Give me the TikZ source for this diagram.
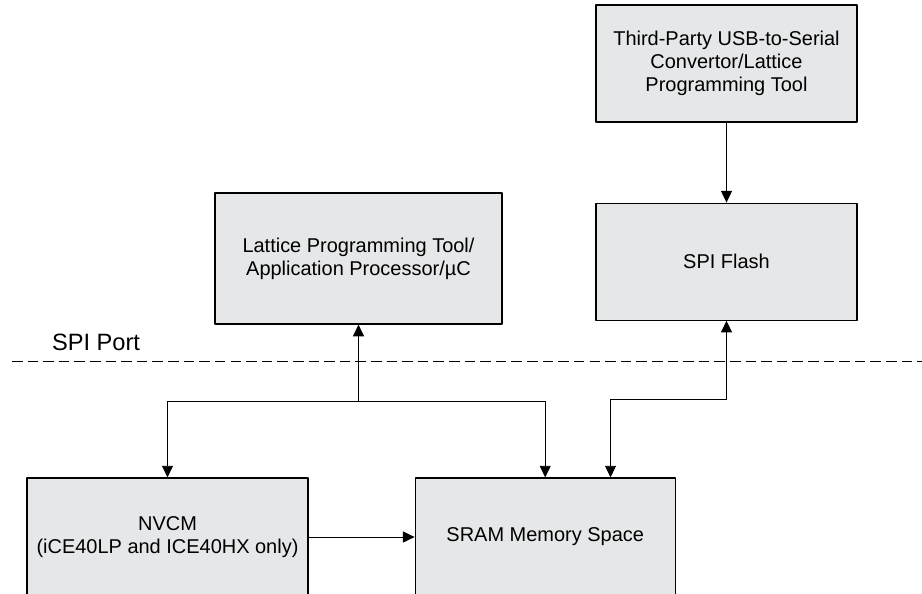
\documentclass[tikz,border=0pt]{standalone}
\usepackage{fontspec}
\setmainfont{Liberation Sans}
\usetikzlibrary{arrows.meta, positioning, calc}
\definecolor{box_gray}{RGB}{230,231,232}
\tikzset{
  block/.style={draw, line width=0.8pt, fill=box_gray, align=center, font=\fontsize{14.2}{16.5}\selectfont},
  link/.style={line width=0.7pt, ->},
  >={Triangle[width=7.8pt,length=8.3pt]},
}

\begin{document}
\begin{tikzpicture}[x=0.025cm, y=-0.025cm, line join=round]
		\useasboundingbox (0,0) rectangle (922,593);
		\clip (0,0) rectangle (922,593);
		% blocks
		\node[block, minimum width=6.525cm, minimum height=2.925cm] (usb) at (726.5,63.5) {Third-Party USB-to-Serial\\Convertor/Lattice\\Programming Tool};
		\node[block, minimum width=6.525cm, minimum height=2.925cm, below=2cm of usb] (flash) {SPI Flash};
		\node[block, minimum width=7.175cm, minimum height=3.275cm] (host) at (358.5,258.5) {Lattice Programming Tool/\\Application Processor/µC};
		\node[block, minimum width=7.025cm, minimum height=2.95cm] (nvcm) at (167.5,537) {NVCM\\(iCE40LP and ICE40HX only)};
		\node[block, minimum width=6.5cm, minimum height=2.95cm, right=2.65cm of nvcm] (sram) {SRAM Memory Space};
		% SPI port
		\coordinate (port_l) at (12,361);
		\coordinate (port_r) at (922,361);
		\draw[dash pattern=on 7.5pt off 3.6pt, line width=0.6pt] (port_l) -- (port_r);
		\node[font=\fontsize{16.8}{20}\selectfont] (port) at (96,342) {SPI Port};
		% connectors
		\coordinate (split) at ($(host.south)+(0,77)$);
		\coordinate (bend) at ($(flash.south)+(0,79)$);
		\draw[link] (usb) -- (flash);
		\draw[link] (split) -- (host);
		\draw[link] (split) -| (nvcm.north);
		\draw[link] (split) -| (sram.north);
		\draw[link, <->] (flash.south) -- (bend) -| ($(sram.north)!0.5!(sram.north east)$);
		\draw[link] (nvcm.east) -- (nvcm.east -| sram.west);
	\end{tikzpicture}
\end{document}
